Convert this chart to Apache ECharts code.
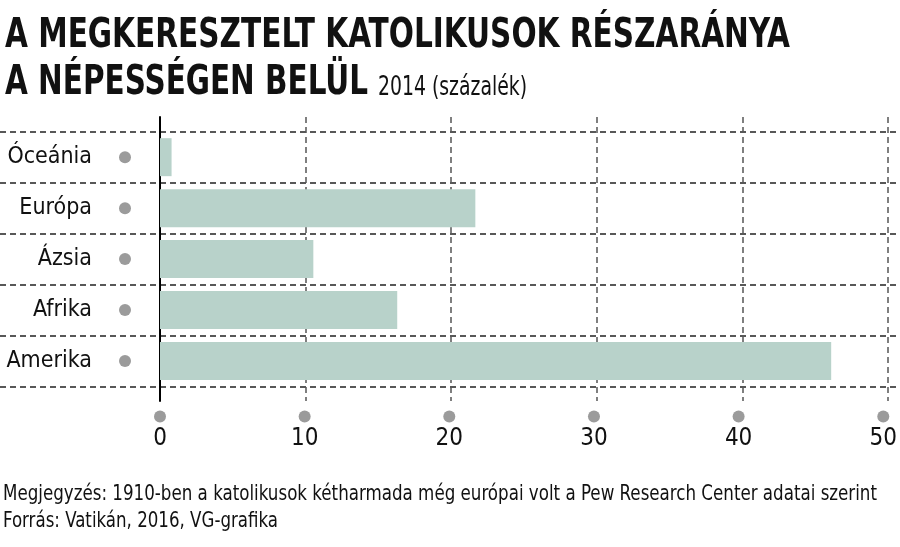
<!DOCTYPE html>
<html>
<head>
<meta charset="utf-8">
<script src="https://cdn.jsdelivr.net/npm/echarts@6/dist/echarts.min.js"></script>
<style>
html,body{margin:0;padding:0;background:#fff;}
#c{width:900px;height:547px;}
</style>
</head>
<body>
<div id="c"></div>
<script>
var categories = ['Óceánia', 'Európa', 'Ázsia', 'Afrika', 'Amerika'];
var values = [0.8, 21.8, 10.6, 16.4, 46.4];
var xTicks = [0, 10, 20, 30, 40, 50];
var titleLine1 = 'A MEGKERESZTELT KATOLIKUSOK RÉSZARÁNYA';
var titleLine2 = 'A NÉPESSÉGEN BELÜL';
var subtitle = '2014 (százalék)';
var note = 'Megjegyzés: 1910-ben a katolikusok kétharmada még európai volt a Pew Research Center adatai szerint';
var source = 'Forrás: Vatikán, 2016, VG-grafika';

var FAM = '"DejaVu Sans Condensed", "Liberation Sans Narrow", sans-serif';
var DOT = '#9b9b9b';
var INK = '#111111';

var measureCtx = document.createElement('canvas').getContext('2d');
function fitText(text, x, yMid, size, weight, targetWidth) {
  measureCtx.font = weight + ' ' + size + 'px ' + FAM;
  var w = measureCtx.measureText(text).width;
  return {
    type: 'text', x: x, y: yMid, scaleX: targetWidth / w, scaleY: 1, originX: 0, originY: 0,
    silent: true, z: 10,
    style: {text: text, fontFamily: FAM, fontSize: size, fontWeight: weight, fill: INK,
            align: 'left', verticalAlign: 'middle'}
  };
}

var chart = echarts.init(document.getElementById('c'), null, {renderer: 'canvas'});
var gridTop = 131.7, gridBottom = 547 - 386.5;

chart.setOption({
  backgroundColor: '#ffffff',
  animation: false,
  textStyle: {fontFamily: FAM},
  graphic: [
    fitText(titleLine1, 5, 37, 40, 'bold', 785),
    fitText(titleLine2, 5, 84, 40, 'bold', 363),
    fitText(subtitle, 378, 88, 26, 'normal', 149),
    fitText(note, 3, 494, 22, 'normal', 874),
    fitText(source, 3, 521, 22, 'normal', 275)
  ],
  grid: [
    {left: 160, right: 12, top: gridTop, bottom: gridBottom},
    {left: 160, right: 12, top: 117, bottom: 547 - 401},
    {left: 0, right: 0, top: gridTop, bottom: gridBottom}
  ],
  xAxis: [
    {gridIndex: 0, type: 'value', min: 0, max: 50, interval: 10,
     axisLine: {show: false}, axisTick: {show: false}, splitLine: {show: false},
     axisLabel: {margin: 24, formatter: function (v) { return '{d|}\n{v|' + v + '}'; },
       rich: {d: {width: 12, height: 12, lineHeight: 12, borderRadius: 6, backgroundColor: DOT},
              v: {fontFamily: FAM, fontSize: 24, lineHeight: 32, color: INK}}}},
    {gridIndex: 1, type: 'value', min: 0, max: 50, interval: 10,
     axisLine: {show: false}, axisTick: {show: false}, axisLabel: {show: false},
     splitLine: {show: true, lineStyle: {color: '#555', width: 1.5, type: [6, 4]}}},
    {gridIndex: 2, type: 'value', min: 0, max: 1, show: false}
  ],
  yAxis: [
    {gridIndex: 0, type: 'category', data: categories, inverse: true,
     axisLine: {show: false}, axisTick: {show: false}, splitLine: {show: false},
     axisLabel: {margin: 29, formatter: function (v) { return '{n|' + v + '}{s|}{d|}'; },
       rich: {n: {fontFamily: FAM, fontSize: 23, color: INK},
              s: {width: 27},
              d: {width: 12, height: 12, borderRadius: 6, backgroundColor: DOT}}}},
    {gridIndex: 1, type: 'value', min: 0, max: 1,
     axisLine: {show: true, onZero: false, lineStyle: {color: '#000', width: 2}},
     axisTick: {show: false}, axisLabel: {show: false}, splitLine: {show: false}},
    {gridIndex: 2, type: 'category', data: categories, inverse: true,
     axisLine: {show: false}, axisTick: {show: false}, axisLabel: {show: false},
     splitLine: {show: true, lineStyle: {color: '#222', width: 1.5, type: [6, 4]}}}
  ],
  series: [{
    type: 'bar', xAxisIndex: 0, yAxisIndex: 0, data: values,
    barWidth: 38, itemStyle: {color: '#b8d2ca'}, z: 3
  }]
});
</script>
</body>
</html>
